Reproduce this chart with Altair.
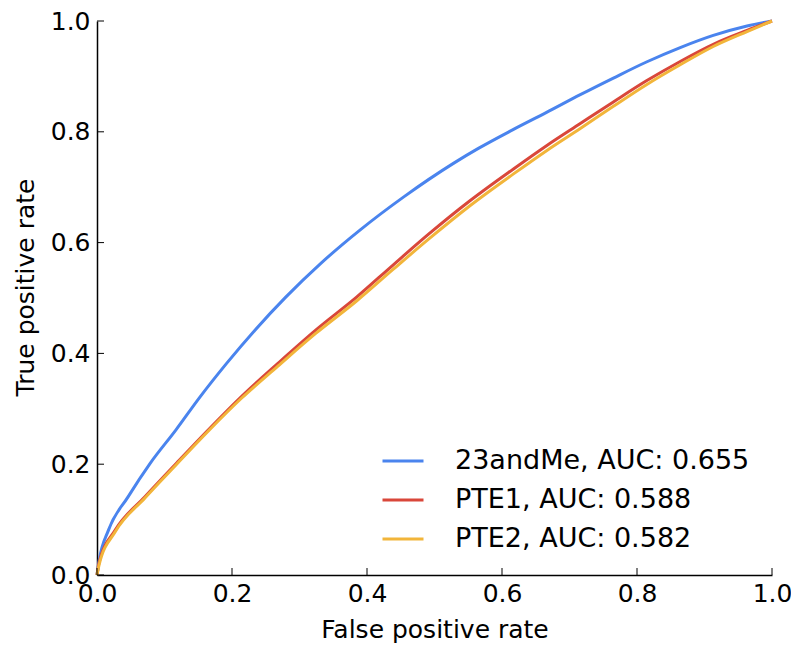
import altair as alt
import pandas as pd

series_names = ["23andMe, AUC: 0.655", "PTE1, AUC: 0.588", "PTE2, AUC: 0.582"]
series_colors = ["#4A84EE", "#D9473A", "#F2B53A"]

fpr_23andme = [0, 0.003, 0.017, 0.046, 0.079, 0.117, 0.153, 0.192, 0.234, 0.280, 0.332, 0.390,
               0.455, 0.528, 0.565, 0.615, 0.666, 0.716, 0.765, 0.814, 0.864, 0.913, 0.963, 1.0]
tpr_23andme = [0, 0.025, 0.081, 0.141, 0.202, 0.262, 0.322, 0.382, 0.442, 0.502, 0.563, 0.623,
               0.683, 0.743, 0.770, 0.803, 0.835, 0.867, 0.897, 0.926, 0.952, 0.974, 0.991, 1.0]

fpr_pte1 = [0, 0.003, 0.027, 0.071, 0.118, 0.165, 0.214, 0.268, 0.324, 0.385, 0.439, 0.493,
            0.553, 0.617, 0.666, 0.716, 0.765, 0.814, 0.864, 0.913, 0.963, 1.0]
tpr_pte1 = [0, 0.022, 0.081, 0.141, 0.202, 0.262, 0.322, 0.382, 0.442, 0.502, 0.560, 0.617,
            0.676, 0.733, 0.775, 0.815, 0.854, 0.892, 0.927, 0.958, 0.983, 1.0]

fpr_pte2 = [0, 0.003, 0.027, 0.071, 0.118, 0.165, 0.214, 0.268, 0.324, 0.385, 0.439, 0.493,
            0.553, 0.617, 0.666, 0.716, 0.765, 0.814, 0.864, 0.913, 0.963, 1.0]
tpr_pte2 = [0, 0.018, 0.078, 0.139, 0.200, 0.260, 0.319, 0.377, 0.436, 0.495, 0.552, 0.608,
            0.667, 0.724, 0.766, 0.806, 0.846, 0.885, 0.921, 0.954, 0.981, 1.0]

tick_values = [0.0, 0.2, 0.4, 0.6, 0.8, 1.0]

rows = []
for name, xs, ys in zip(series_names,
                        [fpr_23andme, fpr_pte1, fpr_pte2],
                        [tpr_23andme, tpr_pte1, tpr_pte2]):
    for i, (a, b) in enumerate(zip(xs, ys)):
        rows.append({"series": name, "fpr": a, "tpr": b, "i": i})
df = pd.DataFrame(rows)
ticks_df = pd.DataFrame({"v": tick_values})

W, H = 675, 554
FONT = "DejaVu Sans"

xscale = alt.Scale(domain=[0, 1], nice=False)
yscale = alt.Scale(domain=[0, 1], nice=False)

lines = alt.Chart(df).mark_line(strokeWidth=3, interpolate="monotone").encode(
    x=alt.X("fpr:Q", scale=xscale,
            axis=alt.Axis(title="False positive rate", values=tick_values, format=".1f",
                          ticks=False, grid=False, labelFlush=False, labelPadding=6,
                          titleBaseline="alphabetic", titleY=62)),
    y=alt.Y("tpr:Q", scale=yscale,
            axis=alt.Axis(title="True positive rate", values=tick_values, format=".1f",
                          ticks=False, grid=False, labelFlush=False, labelPadding=7,
                          titleBaseline="alphabetic", titleX=-64, titleY=266)),
    color=alt.Color("series:N", sort=series_names,
                    scale=alt.Scale(domain=series_names, range=series_colors),
                    legend=alt.Legend(title=None, orient="none", legendX=284, legendY=418,
                                      symbolType="stroke", symbolSize=1681, symbolStrokeWidth=3,
                                      labelFontSize=27, labelFont=FONT, labelColor="black",
                                      labelOffset=30, labelLimit=0, rowPadding=4, padding=0)),
    order="i:Q",
)

xticks = alt.Chart(ticks_df).mark_rule(color="black", strokeWidth=1).encode(
    x=alt.X("v:Q", scale=xscale), y=alt.value(H), y2=alt.value(H - 7))
yticks = alt.Chart(ticks_df).mark_rule(color="black", strokeWidth=1).encode(
    y=alt.Y("v:Q", scale=yscale), x=alt.value(0), x2=alt.value(7))

chart = alt.layer(lines, xticks, yticks).properties(
    width=W, height=H,
    autosize=alt.AutoSizeParams(type="none"),
    padding={"left": 97, "top": 21, "right": 19, "bottom": 70},
    background="white",
).configure_view(stroke=None).configure_axis(
    domainColor="black", domainWidth=1.5,
    labelFont=FONT, labelFontSize=25, labelColor="black",
    titleFont=FONT, titleFontSize=25, titleColor="black", titleFontWeight="normal",
)

chart.save("out.html", embed_options={"renderer": "svg", "actions": False})
